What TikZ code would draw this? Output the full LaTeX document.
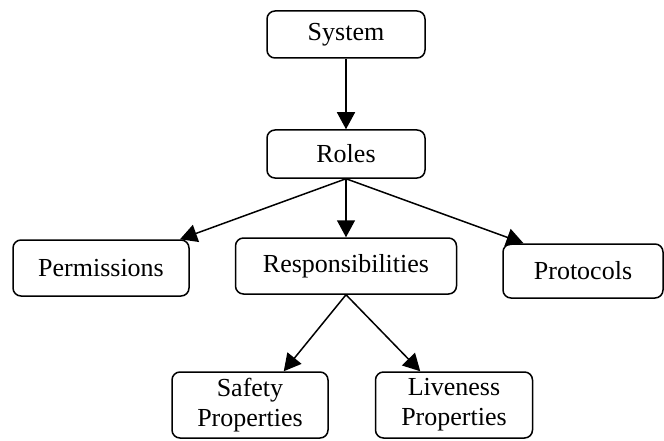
\documentclass[tikz,border=0pt]{standalone}
\usepackage{fontspec}
\setmainfont{Liberation Serif}
\usetikzlibrary{arrows.meta}

\begin{document}
\begin{tikzpicture}[
			x=1pt, y=-1pt,
			% Define the style for the nodes
			every node/.style={draw, rounded corners=8pt, line width=1.5pt, inner sep=0pt,
				align=center, font=\fontsize{26}{30}\selectfont},
			link/.style={line width=1.5pt, -{Triangle[length=17pt,width=18pt]}}
			]

			\useasboundingbox (0,0) rectangle (664,441);

			\node (sys) at (346, 34.5) [minimum width=158pt, minimum height=47pt] {System};
			\node (roles) at (346, 154) [minimum width=158pt, minimum height=48pt] {Roles};
			\node (perm) at (101, 268) [minimum width=176pt, minimum height=56pt] {Permissions};
			\node (resp) at (346, 266) [minimum width=221pt, minimum height=56pt] {Responsibilities};
			\node (prot) at (583, 271) [minimum width=160pt, minimum height=54pt] {Protocols};
			\node (safe) at (250, 405) [minimum width=156pt, minimum height=66pt] {Safety\\Properties};
			\node (live) at (454, 405) [minimum width=157pt, minimum height=66pt] {Liveness\\Properties};

			\draw[link] (sys)--(roles);
			\draw[link] (roles.south)--(perm.20);
			\draw[link] (roles.south)--(resp.north);
			\draw[link] (roles.south)--(prot.155);

			\draw[link] (resp.south)--(safe.45);
			\draw[link] (resp.south)--(live.135);

		\end{tikzpicture}
\end{document}
